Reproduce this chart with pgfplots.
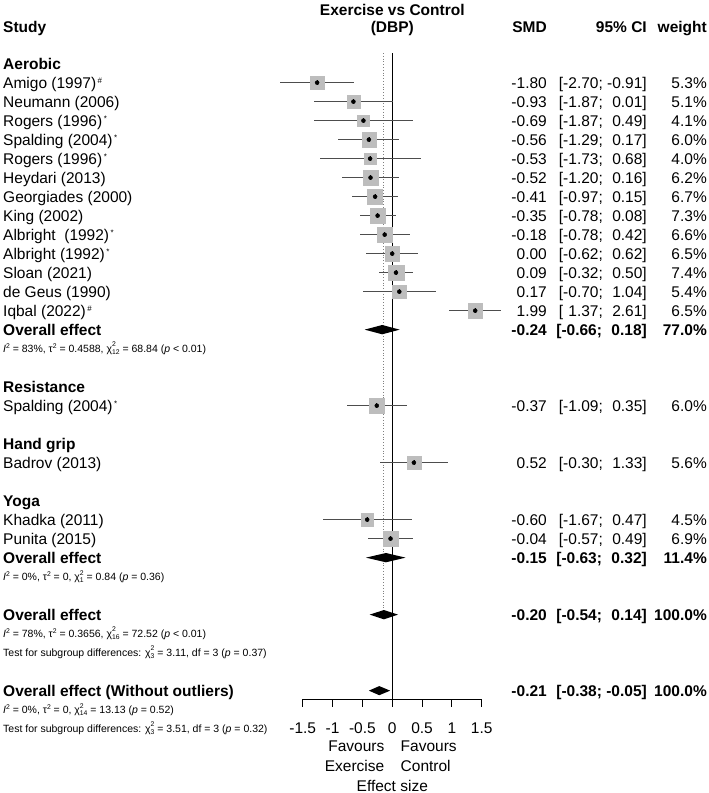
\documentclass[border=0pt]{standalone}
\usepackage{pgfplots}
\pgfplotsset{compat=1.18}
\usepackage{pgfplotstable}
\usepackage{fontspec}
\setmainfont{Liberation Sans}
\definecolor{sqgray}{HTML}{BDBDBD}
\definecolor{cigray}{HTML}{4D4D4D}

\pgfplotstableread{
row smd lo hi w
-1 -1.80 -2.70 -0.91 5.3
-2 -0.93 -1.87 0.01 5.1
-3 -0.69 -1.87 0.49 4.1
-4 -0.56 -1.29 0.17 6.0
-5 -0.53 -1.73 0.68 4.0
-6 -0.52 -1.20 0.16 6.2
-7 -0.41 -0.97 0.15 6.7
-8 -0.35 -0.78 0.08 7.3
-9 -0.18 -0.78 0.42 6.6
-10 0.00 -0.62 0.62 6.5
-11 0.09 -0.32 0.50 7.4
-12 0.17 -0.70 1.04 5.4
-13 1.99 1.37 2.61 6.5
-18 -0.37 -1.09 0.35 6.0
-21 0.52 -0.30 1.33 5.6
-24 -0.60 -1.67 0.47 4.5
-25 -0.04 -0.57 0.49 6.9
}\studies

\newcommand{\fs}{\fontsize{15.5}{18}\selectfont}
\newcommand{\sm}{\fontsize{10.5}{12}\selectfont}
\newcommand{\ssup}[1]{\hspace{1.5pt}\raisebox{5pt}{\fontsize{8}{8}\selectfont #1}}
\newcommand{\sq}{\raisebox{3.8pt}{\fontsize{6.8}{6.8}\selectfont 2}}
\newcommand{\chis}[1]{χ\raisebox{-2.5pt}{\shortstack[l]{\fontsize{6.8}{6.3}\selectfont 2\\\fontsize{6.8}{6.3}\selectfont #1}}}
\newcommand{\Lrow}[2]{\node[anchor=base west,inner sep=0pt] at (3,{69+19*#1}) {\fs #2};}
\newcommand{\Srow}[2]{\node[anchor=base west,inner sep=0pt] at (3,{67.2+19*#1}) {\sm #2};}
\newcommand{\Rrow}[4]{%
  \node[anchor=base east,inner sep=0pt] at (547,{69+19*#1}) {\fs #2};%
  \node[anchor=base east,inner sep=0pt] at (647,{69+19*#1}) {\fs #3};%
  \node[anchor=base east,inner sep=0pt] at (707,{69+19*#1}) {\fs #4};}
\newcommand{\RrowB}[4]{%
  \node[anchor=base east,inner sep=0pt] at (547,{69+19*#1}) {\fs\bfseries #2};%
  \node[anchor=base east,inner sep=0pt] at (647,{69+19*#1}) {\fs\bfseries #3};%
  \node[anchor=base east,inner sep=0pt] at (707,{69+19*#1}) {\fs\bfseries #4};}
\newcommand{\m}{\hphantom{-}}

\begin{document}
\begin{tikzpicture}
\begin{axis}[
  at={(302.7pt,-699pt)}, anchor=south west,
  scale only axis, width=179pt, height=646pt,
  xmin=-2.146, xmax=2.146, ymin=-33.44, ymax=0.56,
  clip=false,
  axis x line*=bottom, axis y line=none, ytick=\empty,
  x axis line style={black, line width=0.9pt},
  xtick={-2.146,-1.431,-0.715,0,0.715,1.431,2.146},
  xticklabels={-1.5,-1,-0.5,0,0.5,1,1.5},
  tick align=outside, major tick length=7.5pt,
  xtick style={black, line width=0.9pt},
  xticklabel style={font=\fs, anchor=base, yshift=-26.5pt},
]
% reference lines
\addplot[black, line width=1.1pt] coordinates {(0,0.56) (0,-33.44)};
\addplot[gray, line width=1pt, dash pattern=on 1pt off 1.8pt] coordinates {(-0.20,0.56) (-0.20,-28.75)};
% squares (side proportional to sqrt of weight)
\addplot[scatter, only marks, mark=square*,
  scatter/use mapped color={draw=sqgray, fill=sqgray},
  visualization depends on={2.9*sqrt(\thisrow{w}) \as \msz},
  scatter/@pre marker code/.append style={/tikz/mark size=\msz}]
  table[x=smd, y=row] {\studies};
% confidence intervals
\addplot[only marks, mark=none,
  error bars/.cd, x dir=both, x explicit, error mark=none,
  error bar style={cigray, line width=1pt}]
  table[x=smd, y=row, x error plus expr=\thisrow{hi}-\thisrow{smd},
        x error minus expr=\thisrow{smd}-\thisrow{lo}] {\studies};
% estimate ticks
\addplot[only marks, mark=|, mark size=2.2pt, mark options={black, line width=0.55pt}]
  table[x=smd, y=row] {\studies};
% diamonds
\addplot[fill=black, draw=none] coordinates {(-0.66,-14) (-0.24,-13.755) (0.18,-14) (-0.24,-14.245)} -- cycle;
\addplot[fill=black, draw=none] coordinates {(-0.63,-26) (-0.15,-25.755) (0.32,-26) (-0.15,-26.245)} -- cycle;
\addplot[fill=black, draw=none] coordinates {(-0.54,-29) (-0.20,-28.755) (0.14,-29) (-0.20,-29.245)} -- cycle;
\addplot[fill=black, draw=none] coordinates {(-0.56,-33) (-0.31,-32.76) (-0.05,-33) (-0.31,-33.24)} -- cycle;
\end{axis}

\begin{scope}[x=1pt,y=-1pt]
\path (0,0) rectangle (709,793);
\node[anchor=base,inner sep=0pt] at (392.3,15.7) {\fs\bfseries Exercise vs Control};
\node[anchor=base,inner sep=0pt] at (392.3,32.3) {\fs\bfseries (DBP)};
\node[anchor=base west,inner sep=0pt] at (3,32.5) {\fs\bfseries Study};
\node[anchor=base east,inner sep=0pt] at (547,32.5) {\fs\bfseries SMD};
\node[anchor=base east,inner sep=0pt] at (647,32.5) {\fs\bfseries 95\% CI};
\node[anchor=base east,inner sep=0pt] at (707,32.5) {\fs\bfseries weight};

\Lrow{0}{\bfseries Aerobic}
\Lrow{1}{Amigo (1997)\ssup{\#}}
\Lrow{2}{Neumann (2006)}
\Lrow{3}{Rogers (1996)\ssup{*}}
\Lrow{4}{Spalding (2004)\ssup{*}}
\Lrow{5}{Rogers (1996)\ssup{*}}
\Lrow{6}{Heydari (2013)}
\Lrow{7}{Georgiades (2000)}
\Lrow{8}{King (2002)}
\Lrow{9}{Albright\ \ (1992)\ssup{*}}
\Lrow{10}{Albright (1992)\ssup{*}}
\Lrow{11}{Sloan (2021)}
\Lrow{12}{de Geus (1990)}
\Lrow{13}{Iqbal (2022)\ssup{\#}}
\Lrow{14}{\bfseries Overall effect}
\Srow{15}{\textit{I}\sq{} = 83\%, τ\sq{} = 0.4588, \chis{12} = 68.84 (\textit{p} < 0.01)}
\Lrow{17}{\bfseries Resistance}
\Lrow{18}{Spalding (2004)\ssup{*}}
\Lrow{20}{\bfseries Hand grip}
\Lrow{21}{Badrov (2013)}
\Lrow{23}{\bfseries Yoga}
\Lrow{24}{Khadka (2011)}
\Lrow{25}{Punita (2015)}
\Lrow{26}{\bfseries Overall effect}
\Srow{27}{\textit{I}\sq{} = 0\%, τ\sq{} = 0, \chis{1} = 0.84 (\textit{p} = 0.36)}
\Lrow{29}{\bfseries Overall effect}
\Srow{30}{\textit{I}\sq{} = 78\%, τ\sq{} = 0.3656, \chis{16} = 72.52 (\textit{p} < 0.01)}
\Srow{31}{Test for subgroup differences: \chis{3} = 3.11, df = 3 (\textit{p} = 0.37)}
\Lrow{33}{\bfseries Overall effect (Without outliers)}
\Srow{34}{\textit{I}\sq{} = 0\%, τ\sq{} = 0, \chis{14} = 13.13 (\textit{p} = 0.52)}
\Srow{35}{Test for subgroup differences: \chis{3} = 3.51, df = 3 (\textit{p} = 0.32)}

\Rrow{1}{-1.80}{[-2.70; -0.91]}{5.3\%}
\Rrow{2}{-0.93}{[-1.87; \m0.01]}{5.1\%}
\Rrow{3}{-0.69}{[-1.87; \m0.49]}{4.1\%}
\Rrow{4}{-0.56}{[-1.29; \m0.17]}{6.0\%}
\Rrow{5}{-0.53}{[-1.73; \m0.68]}{4.0\%}
\Rrow{6}{-0.52}{[-1.20; \m0.16]}{6.2\%}
\Rrow{7}{-0.41}{[-0.97; \m0.15]}{6.7\%}
\Rrow{8}{-0.35}{[-0.78; \m0.08]}{7.3\%}
\Rrow{9}{-0.18}{[-0.78; \m0.42]}{6.6\%}
\Rrow{10}{0.00}{[-0.62; \m0.62]}{6.5\%}
\Rrow{11}{0.09}{[-0.32; \m0.50]}{7.4\%}
\Rrow{12}{0.17}{[-0.70; \m1.04]}{5.4\%}
\Rrow{13}{1.99}{[\m1.37; \m2.61]}{6.5\%}
\RrowB{14}{-0.24}{[-0.66; \m0.18]}{77.0\%}
\Rrow{18}{-0.37}{[-1.09; \m0.35]}{6.0\%}
\Rrow{21}{0.52}{[-0.30; \m1.33]}{5.6\%}
\Rrow{24}{-0.60}{[-1.67; \m0.47]}{4.5\%}
\Rrow{25}{-0.04}{[-0.57; \m0.49]}{6.9\%}
\RrowB{26}{-0.15}{[-0.63; \m0.32]}{11.4\%}
\RrowB{29}{-0.20}{[-0.54; \m0.14]}{100.0\%}
\RrowB{33}{-0.21}{[-0.38; -0.05]}{100.0\%}

\node[anchor=base east,inner sep=0pt] at (384.5,751.7) {\fs Favours};
\node[anchor=base east,inner sep=0pt] at (384.5,771.7) {\fs Exercise};
\node[anchor=base west,inner sep=0pt] at (400.5,751.7) {\fs Favours};
\node[anchor=base west,inner sep=0pt] at (400.5,771.7) {\fs Control};
\node[anchor=base,inner sep=0pt] at (392.3,791) {\fs Effect size};
\end{scope}
\end{tikzpicture}
\end{document}
